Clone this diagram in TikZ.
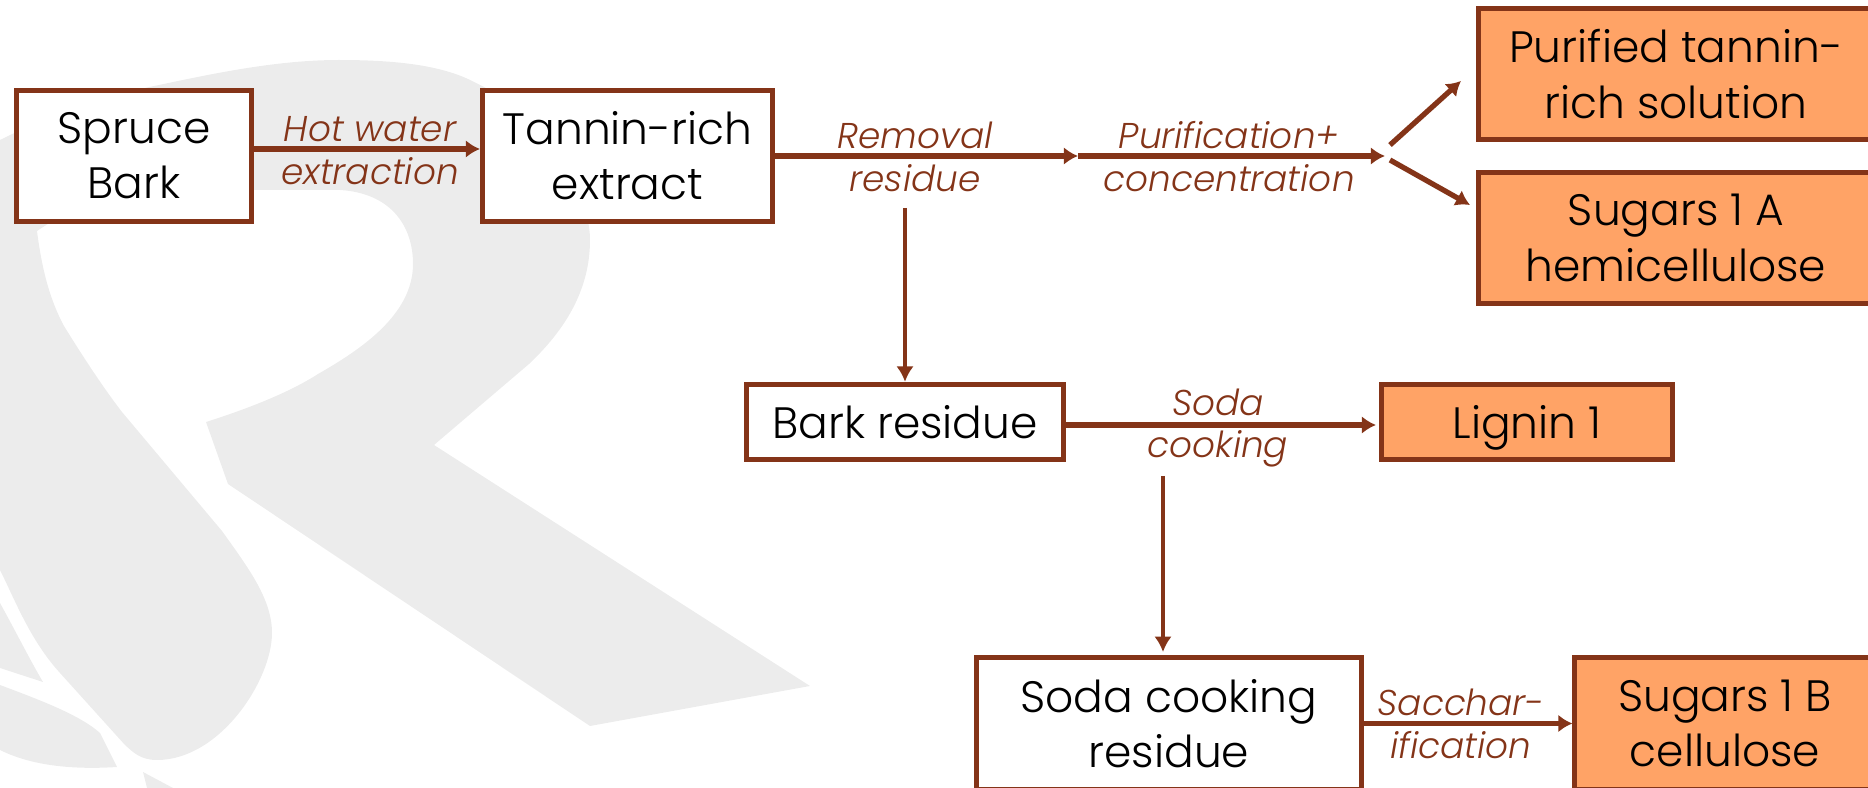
\documentclass[tikz,border=0pt]{standalone}
\usepackage{fontspec}
\setmainfont{Poppins}[UprightFont=* Light,ItalicFont=* Light Italic]
\usetikzlibrary{positioning}
\usetikzlibrary{arrows.meta}
\definecolor{barkbrown}{HTML}{843418}
\definecolor{productorange}{HTML}{FFA366}
\definecolor{logogray}{HTML}{ECECEC}
\tikzset{
feedbox/.style={draw=barkbrown,line width=1.4pt,fill=white,align=center,inner sep=0pt,
  font=\fontsize{12.5}{15.7}\selectfont,text=black},
productbox/.style={feedbox,fill=productorange},
steplabel/.style={align=center,inner sep=0pt,text=barkbrown,
  font=\fontsize{10.2}{12.2}\selectfont\itshape},
flow/.style={draw=barkbrown,line width=1.5pt,-{Latex[length=4pt,width=5pt]}},
thinflow/.style={draw=barkbrown,line width=1.3pt,-{Latex[length=4.4pt,width=5pt]}},
logo/.style={fill=logogray,draw=none}
}
\begin{document}
\begin{tikzpicture}[x=0.01cm,y=-0.01cm]
\useasboundingbox (0,0) rectangle (1868,788);

\path[logo] (0,140) .. controls (60,110) and (110,95) .. (159,85)
 .. controls (220,72) and (280,60) .. (339,60)
 .. controls (400,60) and (445,66) .. (476,83)
 .. controls (525,105) and (590,180) .. (590,240)
 .. controls (590,290) and (565,330) .. (529,364)
 -- (434,445) -- (810,686) -- (590,726) -- (228,484) -- (206,422)
 .. controls (250,408) and (290,392) .. (318,374)
 .. controls (360,350) and (413,315) .. (413,264)
 .. controls (413,225) and (390,193) .. (340,190)
 -- (100,190) -- (37,231)
 .. controls (42,270) and (50,300) .. (64,326)
 .. controls (85,360) and (105,390) .. (122,412)
 -- (222,531)
 .. controls (250,570) and (272,600) .. (272,633)
 .. controls (272,680) and (220,760) .. (157,760)
 .. controls (140,760) and (133,752) .. (125,745)
 -- (60,673) .. controls (30,640) and (15,600) .. (0,570) -- cycle;
\path[logo] (0,603) .. controls (15,630) and (30,660) .. (43,682) -- (0,668) -- cycle;
\path[logo] (0,685) .. controls (40,700) and (80,715) .. (100,733)
 -- (117,767) .. controls (70,770) and (30,765) .. (0,750) -- cycle;
\path[logo] (143,772) -- (173,788) -- (147,788) -- cycle;

\node[feedbox,minimum width=2.35cm,minimum height=1.31cm](Spruce) at (134,156){Spruce\\Bark};
\node[feedbox,minimum width=2.90cm,minimum height=1.31cm](Tannin) at (627.5,156){Tannin-rich\\extract};
\node[productbox,minimum width=3.95cm,minimum height=1.31cm](Purified) at (1676,74){Purified tannin-\\rich solution};
\node[productbox,minimum width=3.95cm,minimum height=1.31cm](SugarsA) at (1676,238){Sugars 1 A\\hemicellulose};
\node[feedbox,minimum width=3.165cm,minimum height=0.755cm](Bark) at (905,422){Bark residue};
\node[productbox,minimum width=2.90cm,minimum height=0.755cm,text depth=0pt](Lignin) at (1527,422){Lignin 1};
\node[feedbox,minimum width=3.855cm,minimum height=1.31cm](Soda) at (1169,723.5){Soda cooking\\residue};
\node[productbox,minimum width=3.00cm,minimum height=1.31cm](SugarsB) at (1725,723.5){Sugars 1 B\\cellulose};

\node[steplabel](hotLabel) at (370,151){Hot water\\extraction};
\node[steplabel](removalLabel) at (915,157){Removal\\residue};
\node[steplabel](purifLabel) at (1229,157){Purification+\\concentration};
\node[steplabel](sodaLabel) at (1218,428){Soda\\cooking};
\node[steplabel](sacchLabel) at (1461,724){Sacchar-\\ification};

\coordinate(endRemoval) at (1078,156);
\coordinate(endPurif) at (1385,156);
\coordinate(startUp) at (1390,145);
\coordinate(endUp) at (1461,81);
\coordinate(startDown) at (1390,160);
\coordinate(endDown) at (1470,205);
\coordinate(startBark) at (905,208);
\coordinate(startSoda) at (1163,476);
\coordinate(endSoda) at (1163,652);
\coordinate(endLignin) at (1376,425);

\path
([yshift=0.07cm]Spruce.east) edge[flow] ([yshift=0.07cm]Tannin.west)
(Tannin) edge[flow] (endRemoval)
(endRemoval) edge[flow] (endPurif)
(startUp) edge[flow] (endUp)
(startDown) edge[flow] (endDown)
(startBark) edge[thinflow] (Bark)
(Bark.east |- endLignin) edge[flow] (endLignin)
(startSoda) edge[thinflow] (endSoda)
(Soda) edge[flow] (SugarsB);
\end{tikzpicture}
\end{document}
